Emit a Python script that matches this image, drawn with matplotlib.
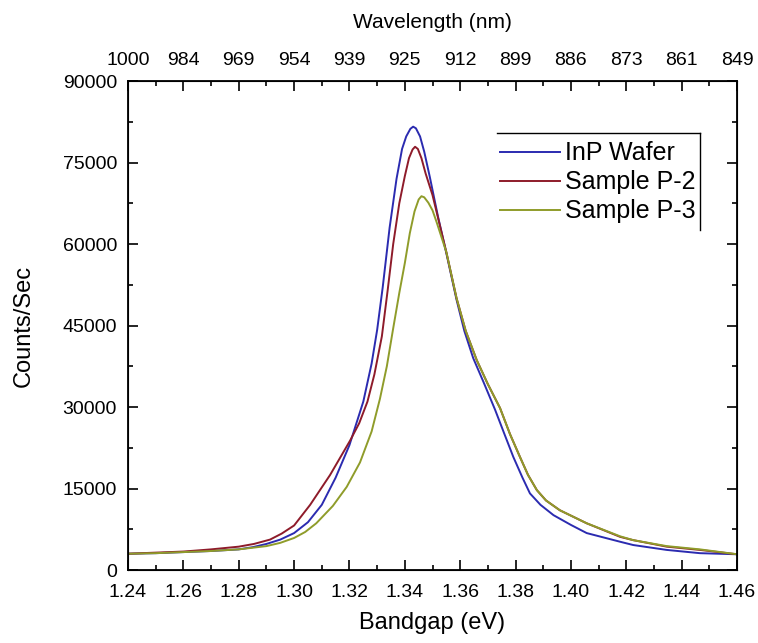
import numpy as np
import matplotlib.pyplot as plt
from matplotlib.ticker import MultipleLocator

plt.rcParams['font.family'] = ['Liberation Sans', 'DejaVu Sans']

# values
ev_wafer = [1.24, 1.25, 1.26, 1.27, 1.28, 1.285, 1.29, 1.295, 1.30, 1.305, 1.31, 1.315,
            1.32, 1.325, 1.328, 1.330, 1.332, 1.3345, 1.337, 1.339, 1.3405, 1.342, 1.343,
            1.344, 1.3455, 1.347, 1.349, 1.352, 1.355, 1.3587, 1.3615, 1.3647, 1.3685,
            1.3726, 1.376, 1.3792, 1.3825, 1.3852, 1.389, 1.3937, 1.40, 1.4057, 1.4178,
            1.4225, 1.4346, 1.4466, 1.46]
cnt_wafer = [3000, 3100, 3300, 3500, 3800, 4200, 4800, 5600, 6800, 8800, 12000, 17000,
             23000, 31000, 38000, 44200, 52000, 63000, 72000, 77500, 79800, 81200, 81600,
             81300, 79800, 77000, 72400, 65000, 58300, 49700, 44000, 39000, 34500,
             29500, 25000, 20800, 17000, 14100, 12000, 10100, 8300, 6800, 5200,
             4600, 3700, 3100, 2900]

ev_p2 = [1.24, 1.25, 1.26, 1.27, 1.28, 1.2855, 1.2913, 1.2955, 1.30, 1.3058, 1.313,
         1.3202, 1.3235, 1.3265, 1.329, 1.3317, 1.3338, 1.3358, 1.338, 1.340, 1.3415,
         1.3428, 1.3437, 1.3447, 1.346, 1.3475, 1.350, 1.355, 1.3587, 1.362, 1.366,
         1.370, 1.3744, 1.378, 1.3816, 1.3845, 1.3877, 1.391, 1.396, 1.4057, 1.4178,
         1.4225, 1.4346, 1.4466, 1.46]
cnt_p2 = [3000, 3200, 3400, 3800, 4300, 4800, 5600, 6700, 8200, 12000, 17500,
          23800, 27000, 31000, 36000, 43000, 51500, 60000, 67500, 72500, 75800,
          77400, 77900, 77500, 75800, 73000, 69000, 58500, 50000, 44000, 38600,
          34200, 29800, 25000, 20800, 17500, 14700, 12800, 11000, 8600, 6100,
          5500, 4300, 3700, 2900]

ev_p3 = [1.24, 1.25, 1.26, 1.27, 1.28, 1.29, 1.295, 1.30, 1.304, 1.308, 1.314, 1.319,
         1.3238, 1.328, 1.331, 1.3335, 1.3357, 1.338, 1.340, 1.3418, 1.3435, 1.345,
         1.346, 1.347, 1.3485, 1.350, 1.3515, 1.355, 1.3587, 1.362, 1.366, 1.370,
         1.3744, 1.378, 1.3816, 1.3845, 1.3877, 1.391, 1.396, 1.4057, 1.4178, 1.4225,
         1.4346, 1.4466, 1.46]
cnt_p3 = [3000, 3100, 3300, 3500, 3800, 4400, 5000, 5900, 7000, 8600, 11800, 15300,
          19800, 25500, 31500, 37500, 44200, 51000, 56500, 62000, 66000, 68200,
          68800, 68600, 67600, 66200, 64000, 58500, 50000, 44000, 38600, 34200,
          29800, 25000, 20800, 17500, 14700, 12800, 11000, 8600, 6200, 5500,
          4400, 3800, 2900]

ev_ticks = [1.24, 1.26, 1.28, 1.30, 1.32, 1.34, 1.36, 1.38, 1.40, 1.42, 1.44, 1.46]
wl_labels = ['1000', '984', '969', '954', '939', '925', '912', '899', '886', '873', '861', '849']
y_ticks = [0, 15000, 30000, 45000, 60000, 75000, 90000]

fig = plt.figure(figsize=(7.58, 6.43), dpi=100)
ax = fig.add_axes([0.1689, 0.1135, 0.8034, 0.7605])

ax.plot(ev_wafer, cnt_wafer, color='#2b2bb0', lw=1.4, label='InP Wafer')
ax.plot(ev_p2, cnt_p2, color='#8e1b2a', lw=1.4, label='Sample P-2')
ax.plot(ev_p3, cnt_p3, color='#8f9c2a', lw=1.4, label='Sample P-3')

ax.set_xlim(1.24, 1.46)
ax.set_ylim(0, 90000)
ax.set_xticks(ev_ticks)
ax.set_xticklabels([f'{v:.2f}' for v in ev_ticks])
ax.set_yticks(y_ticks)
ax.xaxis.set_minor_locator(MultipleLocator(0.01))
ax.yaxis.set_minor_locator(MultipleLocator(7500))
ax.tick_params(which='both', direction='in', right=True, labelsize=14, width=1.2)
ax.tick_params(which='major', length=7)
ax.tick_params(axis='x', which='major', pad=10)
ax.tick_params(axis='y', which='major', pad=8)
ax.tick_params(which='minor', length=3.5)
for s in ax.spines.values():
    s.set_linewidth(1.3)

ax.set_xlabel('Bandgap (eV)', fontsize=17, labelpad=8)
ax.set_ylabel('Counts/Sec', fontsize=17, labelpad=20)

# top axis: wavelength
ax2 = ax.twiny()
ax2.set_xlim(ax.get_xlim())
ax2.set_xticks(ev_ticks)
ax2.set_xticklabels(wl_labels)
ax2.xaxis.set_minor_locator(MultipleLocator(0.01))
ax2.tick_params(which='both', direction='in', labelsize=14, width=1.2)
ax2.tick_params(which='major', length=7, pad=9)
ax2.tick_params(which='minor', length=3.5)
ax2.set_xlabel('Wavelength (nm)', fontsize=15, labelpad=17)

leg = ax.legend(loc='upper left', bbox_to_anchor=(0.595, 0.897), frameon=False,
                fontsize=18, handlelength=2.4, handletextpad=0.2, labelspacing=0.2,
                borderaxespad=0)

# partial frame around the legend (top and right edges only)
ax.plot([0.606, 0.939], [0.8937, 0.8937], color='black', lw=1.0, transform=ax.transAxes)
ax.plot([0.939, 0.939], [0.8937, 0.695], color='black', lw=1.0, transform=ax.transAxes)

plt.savefig('out.png', dpi=100)
